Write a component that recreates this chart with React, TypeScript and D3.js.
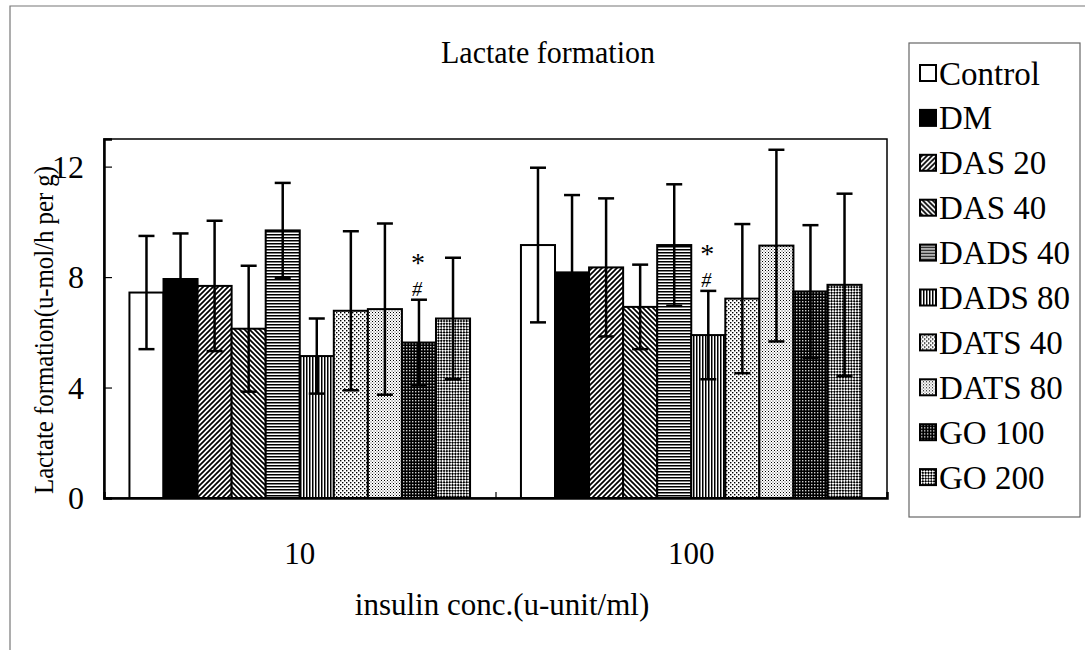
import React, { useRef, useEffect } from "react";
import * as d3 from "d3";

// insulin concentrations on the x axis
const groups = ["10", "100"];
const series = ["Control", "DM", "DAS 20", "DAS 40", "DADS 40", "DADS 80", "DATS 40", "DATS 80", "GO 100", "GO 200"];
// mean values
const means10 = [7.44, 7.93, 7.68, 6.13, 9.69, 5.14, 6.78, 6.84, 5.63, 6.5];
const means100 = [9.16, 8.17, 8.35, 6.92, 9.16, 5.9, 7.22, 9.14, 7.48, 7.72];
// error bar half lengths
const sd10 = [2.05, 1.65, 2.36, 2.28, 1.72, 1.36, 2.88, 3.1, 1.55, 2.2];
const sd100 = [2.8, 2.8, 2.5, 1.53, 2.2, 1.6, 2.7, 3.47, 2.4, 3.3];
const yTicks = [0, 4, 8, 12];
// significance marks above bars
const markGroups = ["10", "100"];
const markSeries = ["GO 100", "DADS 80"];

const FONT = "'Liberation Serif', 'Times New Roman', serif";

const App = () => {
  const svgRef = useRef(null);

  useEffect(() => {
    const width = 1085;
    const height = 650;
    const plot = { left: 104, right: 887, top: 139, bottom: 498 };

    const svg = d3.select(svgRef.current)
      .attr("width", width)
      .attr("height", height);
    svg.selectAll("*").remove();

    const defs = svg.append("defs");

    // fill patterns, one per treatment
    const pat = (id, w, h) => defs.append("pattern")
      .attr("id", id)
      .attr("patternUnits", "userSpaceOnUse")
      .attr("width", w)
      .attr("height", h);

    let p = pat("p-das20", 5, 5);
    p.append("rect").attr("width", 5).attr("height", 5).attr("fill", "#fff");
    p.append("path").attr("d", "M0,5 L5,0 M-1,1 L1,-1 M4,6 L6,4")
      .attr("stroke", "#000").attr("stroke-width", 1.7);

    p = pat("p-das40", 5, 5);
    p.append("rect").attr("width", 5).attr("height", 5).attr("fill", "#fff");
    p.append("path").attr("d", "M0,0 L5,5 M4,-1 L6,1 M-1,4 L1,6")
      .attr("stroke", "#000").attr("stroke-width", 1.7);

    p = pat("p-dads40", 3, 3);
    p.append("rect").attr("width", 3).attr("height", 3).attr("fill", "#fff");
    p.append("rect").attr("width", 3).attr("height", 1.5).attr("fill", "#000");

    p = pat("p-dads80", 3, 3);
    p.append("rect").attr("width", 3).attr("height", 3).attr("fill", "#fff");
    p.append("rect").attr("width", 1.5).attr("height", 3).attr("fill", "#000");

    p = pat("p-dats40", 4, 4);
    p.append("rect").attr("width", 4).attr("height", 4).attr("fill", "#fff");
    p.append("rect").attr("x", 0).attr("y", 0).attr("width", 1.4).attr("height", 1.4).attr("fill", "#000");
    p.append("rect").attr("x", 2).attr("y", 2).attr("width", 1.4).attr("height", 1.4).attr("fill", "#000");

    p = pat("p-dats80", 3, 3);
    p.append("rect").attr("width", 3).attr("height", 3).attr("fill", "#fff");
    p.append("rect").attr("x", 0).attr("y", 0).attr("width", 1).attr("height", 1).attr("fill", "#000");
    p.append("rect").attr("x", 1.5).attr("y", 1.5).attr("width", 1).attr("height", 1).attr("fill", "#444");

    p = pat("p-go100", 3, 3);
    p.append("rect").attr("width", 3).attr("height", 3).attr("fill", "#000");
    p.append("rect").attr("x", 1).attr("y", 1).attr("width", 1.4).attr("height", 1.4).attr("fill", "#ccc");

    p = pat("p-go200", 4, 4).attr("patternTransform", "rotate(45)");
    p.append("rect").attr("width", 4).attr("height", 4).attr("fill", "#fff");
    p.append("rect").attr("width", 2).attr("height", 2).attr("fill", "#000");
    p.append("rect").attr("x", 2).attr("y", 2).attr("width", 2).attr("height", 2).attr("fill", "#000");

    const fills = ["#fff", "#000", "url(#p-das20)", "url(#p-das40)", "url(#p-dads40)", "url(#p-dads80)",
      "url(#p-dats40)", "url(#p-dats80)", "url(#p-go100)", "url(#p-go200)"];
    const color = d3.scaleOrdinal().domain(series).range(fills);

    // outer figure border (only left and top fall inside the picture)
    svg.append("path")
      .attr("d", `M1085,6 H10 V650`)
      .attr("fill", "none")
      .attr("stroke", "#777")
      .attr("stroke-width", 1.2);

    const x0 = d3.scaleBand()
      .domain(groups)
      .range([plot.left, plot.right])
      .paddingInner(0.13)
      .paddingOuter(0.065);

    const x1 = d3.scaleBand()
      .domain(series)
      .range([0, x0.bandwidth()]);

    const y = d3.scaleLinear()
      .domain([0, 13])
      .range([plot.bottom, plot.top]);

    const rows = [];
    groups.forEach((g, gi) => {
      const m = gi === 0 ? means10 : means100;
      const s = gi === 0 ? sd10 : sd100;
      series.forEach((k, i) => rows.push({ group: g, key: k, mean: m[i], sd: s[i] }));
    });

    // title
    svg.append("text")
      .attr("x", 548)
      .attr("y", 63)
      .attr("text-anchor", "middle")
      .attr("font-family", FONT)
      .attr("font-size", 31)
      .attr("textLength", 214)
      .attr("lengthAdjust", "spacingAndGlyphs")
      .text("Lactate formation");

    const g = svg.append("g");

    // bars
    g.selectAll("rect.bar")
      .data(rows)
      .enter()
      .append("rect")
      .attr("class", "bar")
      .attr("x", d => x0(d.group) + x1(d.key))
      .attr("y", d => y(d.mean))
      .attr("width", x1.bandwidth())
      .attr("height", d => y(0) - y(d.mean))
      .attr("fill", d => color(d.key))
      .attr("stroke", "#000")
      .attr("stroke-width", 2);

    // error bars
    const cap = 8;
    const eb = g.selectAll("g.err")
      .data(rows)
      .enter()
      .append("g")
      .attr("class", "err")
      .attr("transform", d => `translate(${x0(d.group) + x1(d.key) + x1.bandwidth() / 2},0)`)
      .attr("stroke", "#000")
      .attr("stroke-width", 2.5);
    eb.append("line")
      .attr("y1", d => y(d.mean - d.sd))
      .attr("y2", d => y(d.mean + d.sd));
    eb.append("line")
      .attr("x1", -cap).attr("x2", cap)
      .attr("y1", d => y(d.mean + d.sd))
      .attr("y2", d => y(d.mean + d.sd));
    eb.append("line")
      .attr("x1", -cap).attr("x2", cap)
      .attr("y1", d => y(d.mean - d.sd))
      .attr("y2", d => y(d.mean - d.sd));

    // significance marks: * over #
    markGroups.forEach((mg, i) => {
      const r = rows.find(d => d.group === mg && d.key === markSeries[i]);
      const cx = x0(r.group) + x1(r.key) + x1.bandwidth() / 2;
      const top = y(r.mean + r.sd);
      g.append("text")
        .attr("x", cx - 2)
        .attr("y", top - 4)
        .attr("text-anchor", "middle")
        .attr("font-family", FONT)
        .attr("font-style", "italic")
        .attr("font-size", 20)
        .text("#");
      g.append("text")
        .attr("x", cx - 1)
        .attr("y", top - 28)
        .attr("text-anchor", "middle")
        .attr("font-family", FONT)
        .attr("font-size", 28)
        .text("*");
    });

    // plot frame
    svg.append("rect")
      .attr("x", plot.left)
      .attr("y", plot.top)
      .attr("width", plot.right - plot.left)
      .attr("height", plot.bottom - plot.top)
      .attr("fill", "none")
      .attr("stroke", "#000")
      .attr("stroke-width", 1.5);

    // y axis
    const yAxis = svg.append("g")
      .attr("transform", `translate(${plot.left},0)`)
      .call(d3.axisRight(y).tickValues(yTicks).tickSize(8).tickFormat(() => ""));
    yAxis.select(".domain").attr("stroke-width", 2.5);
    yAxis.selectAll(".tick line").attr("stroke-width", 1.2);

    svg.append("g")
      .selectAll("text")
      .data(yTicks)
      .enter()
      .append("text")
      .attr("x", plot.left - 20)
      .attr("y", d => y(d))
      .attr("dy", "0.35em")
      .attr("text-anchor", "end")
      .attr("font-family", FONT)
      .attr("font-size", 32)
      .text(d => d);

    // x axis
    const xAxis = svg.append("g")
      .attr("transform", `translate(0,${plot.bottom})`)
      .call(d3.axisTop(d3.scaleLinear().domain([0, 1]).range([plot.left, plot.right]))
        .tickValues([0.5]).tickSize(6).tickFormat(() => ""));
    xAxis.select(".domain").attr("stroke-width", 2.5);
    xAxis.selectAll(".tick line").attr("stroke-width", 1.2);

    svg.append("g")
      .selectAll("text")
      .data(groups)
      .enter()
      .append("text")
      .attr("x", d => x0(d) + x0.bandwidth() / 2)
      .attr("y", 564)
      .attr("text-anchor", "middle")
      .attr("font-family", FONT)
      .attr("font-size", 31)
      .text(d => d);

    svg.append("text")
      .attr("x", 502)
      .attr("y", 615)
      .attr("text-anchor", "middle")
      .attr("font-family", FONT)
      .attr("font-size", 31)
      .text("insulin conc.(u-unit/ml)");

    svg.append("text")
      .attr("transform", "translate(53,330) rotate(-90)")
      .attr("text-anchor", "middle")
      .attr("font-family", FONT)
      .attr("font-size", 28)
      .attr("textLength", 328)
      .attr("lengthAdjust", "spacingAndGlyphs")
      .text("Lactate formation(u-mol/h per g)");

    // legend
    const legend = svg.append("g");
    legend.append("rect")
      .attr("x", 909)
      .attr("y", 43)
      .attr("width", 171)
      .attr("height", 474)
      .attr("fill", "#fff")
      .attr("stroke", "#666")
      .attr("stroke-width", 1.2);

    const item = legend.selectAll("g.item")
      .data(series)
      .enter()
      .append("g")
      .attr("class", "item")
      .attr("transform", (d, i) => `translate(920,${73 + i * 44.9})`);
    item.append("rect")
      .attr("x", 0)
      .attr("y", -8)
      .attr("width", 16)
      .attr("height", 16)
      .attr("fill", d => color(d))
      .attr("stroke", "#000")
      .attr("stroke-width", 2);
    item.append("text")
      .attr("x", 19)
      .attr("y", 0)
      .attr("dy", "0.35em")
      .attr("font-family", FONT)
      .attr("font-size", 33)
      .text(d => d);
  }, []);

  return <svg ref={svgRef} style={{ position: "absolute", left: 0, top: 0, display: "block" }} />;
};

export default App;
